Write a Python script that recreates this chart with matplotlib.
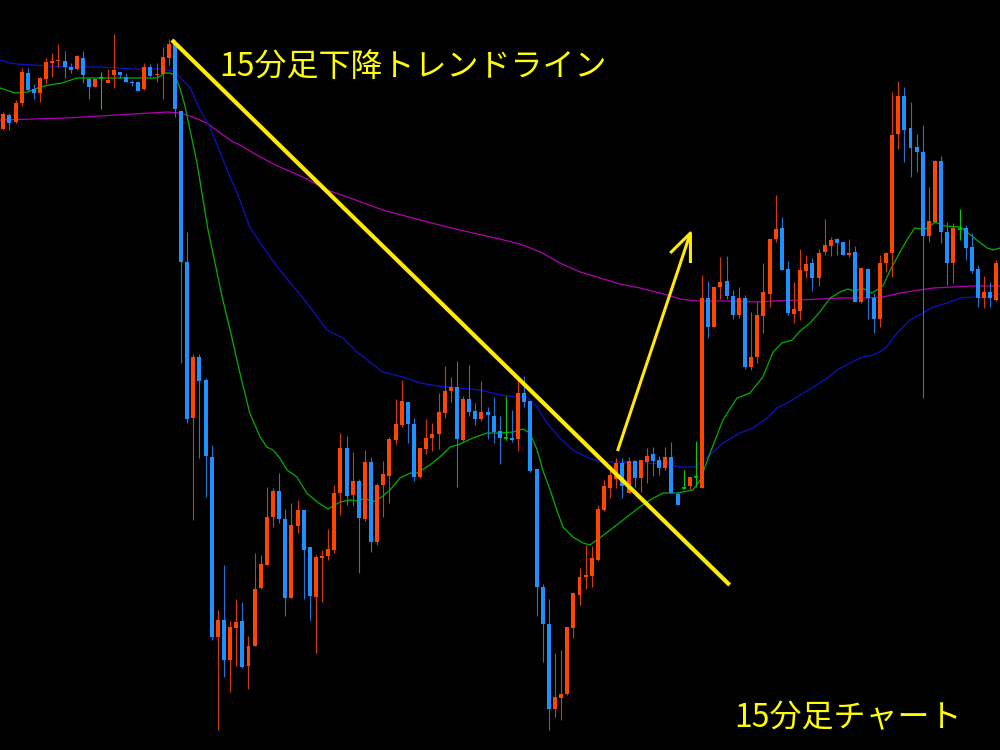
import matplotlib
matplotlib.use('Agg')
import matplotlib.pyplot as plt
import numpy as np

# 15-minute candles, price levels (arbitrary units)
opens = [621, 635, 628, 647, 677, 661, 657, 671, 687, 689,
         689, 683, 681, 692, 671, 663, 672, 667, 675, 678,
         673, 668, 668, 661, 683, 675, 676, 692, 708, 639,
         488, 332, 393, 370, 293, 113, 130, 90, 122, 129,
         84, 104, 162, 185, 233, 259, 231, 152, 224, 240,
         203, 153, 192, 194, 200, 257, 302, 255, 269, 231,
         288, 208, 265, 274, 310, 325, 348, 326, 273, 301,
         312, 316, 337, 359, 363, 310, 351, 339, 331, 338,
         334, 319, 312, 312, 311, 357, 349, 281, 163, 126,
         41, 52, 56, 122, 155, 173, 174, 190, 240, 262,
         271, 287, 257, 289, 272, 288, 296, 290, 282, 293,
         256, 262, 264, 273, 262, 452, 423, 463, 469, 454,
         435, 452, 383, 393, 434, 456, 511, 522, 481, 436,
         439, 479, 487, 472, 498, 504, 511, 508, 495, 498,
         448, 481, 452, 431, 487, 497, 616, 654, 622, 603,
         598, 514, 528, 589, 518, 487, 521, 522, 503, 481,
         452, 458, 450, 487]
highs = [638, 637, 650, 682, 682, 666, 673, 692, 697, 706,
         699, 687, 695, 699, 673, 671, 678, 681, 716, 678,
         677, 670, 669, 687, 686, 687, 703, 711, 710, 639,
         518, 396, 396, 372, 305, 140, 185, 129, 151, 148,
         114, 197, 195, 263, 262, 277, 241, 247, 250, 240,
         203, 195, 200, 221, 265, 317, 314, 298, 271, 300,
         293, 267, 289, 313, 351, 370, 348, 332, 302, 331,
         327, 357, 384, 373, 389, 354, 385, 347, 369, 343,
         353, 334, 354, 340, 371, 374, 349, 281, 166, 151,
         97, 100, 123, 158, 182, 205, 204, 245, 270, 281,
         292, 292, 293, 290, 290, 302, 303, 294, 303, 308,
         258, 280, 273, 309, 475, 469, 463, 493, 494, 460,
         463, 455, 438, 448, 487, 511, 555, 533, 489, 468,
         501, 495, 492, 501, 531, 513, 512, 508, 511, 504,
         482, 482, 457, 495, 498, 658, 669, 663, 648, 616,
         625, 563, 590, 594, 528, 527, 541, 525, 517, 485,
         474, 468, 490, 532]
lows = [620, 620, 627, 644, 659, 651, 648, 666, 673, 683,
        672, 677, 680, 667, 651, 663, 641, 667, 662, 672,
        668, 664, 659, 660, 673, 668, 651, 685, 633, 387,
        327, 230, 292, 253, 110, 20, 73, 58, 84, 82,
        61, 104, 161, 185, 223, 227, 134, 152, 217, 151,
        130, 97, 148, 190, 197, 235, 245, 244, 177, 229,
        198, 205, 233, 247, 306, 323, 307, 269, 272, 296,
        299, 301, 332, 348, 263, 309, 334, 325, 329, 311,
        307, 286, 310, 308, 299, 343, 278, 134, 88, 20,
        33, 30, 55, 112, 145, 161, 163, 189, 239, 252,
        262, 252, 257, 263, 258, 267, 274, 275, 280, 257,
        245, 261, 261, 263, 262, 412, 423, 451, 451, 431,
        432, 381, 380, 387, 417, 443, 508, 480, 435, 427,
        430, 472, 459, 464, 495, 494, 495, 495, 493, 448,
        447, 431, 417, 423, 478, 473, 601, 588, 573, 578,
        352, 508, 528, 507, 465, 467, 510, 490, 477, 443,
        442, 443, 449, 486]
closes = [636, 627, 647, 678, 660, 657, 672, 688, 689, 690,
          683, 680, 694, 675, 663, 671, 672, 670, 680, 675,
          668, 667, 659, 683, 674, 676, 693, 706, 641, 488,
          331, 393, 369, 294, 113, 130, 90, 123, 128, 83,
          104, 161, 186, 233, 259, 231, 152, 225, 240, 200,
          154, 193, 194, 201, 257, 302, 254, 269, 232, 288,
          208, 265, 276, 311, 326, 349, 326, 273, 302, 312,
          316, 338, 359, 363, 311, 351, 338, 331, 338, 335,
          318, 312, 312, 310, 357, 348, 279, 163, 126, 41,
          53, 56, 123, 157, 173, 175, 192, 241, 264, 275,
          287, 264, 289, 272, 290, 294, 289, 282, 293, 257,
          245, 262, 273, 273, 452, 423, 463, 468, 454, 435,
          452, 383, 393, 435, 458, 511, 521, 480, 437, 441,
          480, 486, 472, 497, 505, 510, 507, 495, 497, 448,
          482, 452, 431, 487, 497, 615, 654, 620, 602, 598,
          514, 529, 589, 518, 487, 522, 521, 502, 479, 452,
          458, 452, 487, 528]

# moving averages, sampled along the drawn lines (x = candle index)
fast_x = [-0.5, 1.9, 4.0, 6.0, 7.6, 9.6, 12.0, 17.4, 25.1, 26.4, 27.2, 28.0, 28.8, 29.6, 31.6, 33.4,
          35.7, 37.0, 38.6, 40.2, 41.9, 43.0, 44.0, 45.1, 46.3, 47.9, 49.5, 51.2, 53.0, 54.9, 56.6,
          57.9, 59.0, 60.2, 61.5, 63.1, 64.7, 66.4, 67.5, 69.6, 71.2, 72.9, 74.5, 76.6, 78.9, 81.0,
          83.2, 84.8, 85.9, 87.1, 88.0, 89.2, 90.3, 91.3, 92.9, 94.6, 95.7, 97.3, 99.0, 103.4, 105.5,
          107.6, 109.9, 112.5, 113.7, 115.3, 117.4, 119.7, 121.8, 123.9, 125.6, 127.0, 128.7, 130.0,
          131.6, 133.2, 134.9, 136.5, 137.8, 138.9, 140.1, 141.7, 143.5, 144.7, 146.3, 147.4, 148.7,
          149.9, 150.9, 152.0, 153.6, 156.1, 157.2, 158.8, 160.5, 161.5, 162.6]
fast_y = [662, 657, 658, 663, 665, 667, 672, 672, 672, 677, 677, 675, 662, 645, 587, 520,
          453, 420, 377, 337, 313, 303, 300, 292, 280, 273, 257, 248, 241, 248, 250,
          249, 252, 248, 252, 260, 272, 277, 277, 285, 293, 303, 306, 312, 317, 317,
          318, 321, 317, 300, 280, 260, 240, 223, 213, 207, 205, 212, 220, 241, 250,
          257, 257, 260, 270, 297, 330, 352, 357, 373, 398, 407, 410, 419,
          427, 438, 452, 458, 461, 459, 462, 457, 464, 480, 498, 510, 522,
          521, 522, 528, 524, 523, 518, 510, 502, 500, 502]
mid_x = [-0.5, 1.1, 2.2, 4.9, 7.6, 10.4, 15.8, 21.2, 25.6, 27.7, 28.8, 30.5, 32.1, 33.7, 35.4,
         37.0, 38.6, 40.2, 41.9, 45.1, 48.9, 52.8, 55.4, 57.7, 59.8, 61.9, 65.2, 68.0, 70.8, 74.5,
         77.8, 81.0, 83.8, 85.4, 87.1, 88.7, 90.8, 92.9, 95.2, 97.3, 100.6, 103.9, 108.3, 110.4,
         112.8, 115.3, 117.4, 120.2, 122.3, 124.6, 126.2, 127.9, 130.0, 132.1, 134.4, 136.0, 138.1,
         140.2, 141.9, 143.8, 145.8, 147.9, 150.0, 151.7, 154.0, 156.1, 158.2, 160.5, 162.6]
mid_y = [690, 687, 686, 685, 684, 683, 683, 681, 681, 679, 673, 662, 640, 623, 597,
         573, 550, 523, 507, 480, 452, 420, 412, 398, 388, 378, 373, 367, 364, 362,
         360, 355, 353, 353, 343, 327, 312, 300, 293, 288, 288, 287, 286, 283,
         283, 295, 307, 317, 322, 332, 342, 347, 355, 363, 372, 380, 387,
         393, 395, 401, 417, 430, 437, 443, 447, 452, 453, 453, 456]
slow_x = [-0.5, 4.8, 10.4, 15.8, 21.2, 26.7, 28.8, 30.9, 33.2, 35.4, 37.5, 38.6, 41.9, 45.1, 48.9,
          52.8, 56.6, 61.9, 66.8, 72.4, 76.6, 81.0, 84.8, 87.6, 90.8, 94.1, 99.0, 100.6, 103.9, 108.3,
          110.4, 113.2, 119.0, 122.9, 125.6, 130.0, 133.2, 136.5, 140.9, 143.5, 146.3, 149.5, 151.7,
          154.9, 158.2, 162.6]
slow_y = [630, 631, 632, 634, 636, 638, 637, 633, 627, 617, 608, 605, 593, 583, 573,
          560, 552, 540, 532, 523, 517, 511, 505, 498, 487, 478, 469, 466, 462, 455,
          451, 449, 449, 448, 449, 450, 451, 452, 452, 453, 457, 460, 462,
          463, 464, 464]

# hand-drawn annotations (candle index, price)
trend_x = [27.5, 118.5]
trend_y = [710, 165]
arrow_x = [100.2, 112.1]
arrow_y = [299, 517]
head_x = [108.8, 112.1, 112.1]
head_y = [497, 517, 487]

title_text = '15分足下降トレンドライン'
corner_text = '15分足チャート'

UP_COL = '#ff4500'
DOWN_COL = '#1e90ff'
DOJI_COL = '#00d000'

plt.rcParams['font.family'] = ['Noto Sans CJK JP', 'DejaVu Sans']

o = np.array(opens, dtype=float)
h = np.array(highs, dtype=float)
l = np.array(lows, dtype=float)
c = np.array(closes, dtype=float)
x = np.arange(len(o))
up = c > o
down = c < o
doji = c == o

fig = plt.figure(figsize=(10, 7.5), dpi=100, facecolor='black')
ax = fig.add_axes([0, 0, 1, 1])
ax.set_facecolor('black')

# MAs
ax.plot(slow_x, slow_y, color='#b400b4', lw=0.9, zorder=2)
ax.plot(mid_x, mid_y, color='#1010c8', lw=0.9, zorder=2)
ax.plot(fast_x, fast_y, color='#00b000', lw=0.9, zorder=2)

# candles
wick_cols = np.where(up, '#d83a00', np.where(down, '#1a78d8', DOJI_COL))
ax.vlines(x, l, h, colors=wick_cols, lw=0.8, zorder=3)
bw = 0.65
ax.bar(x[up], np.maximum(c[up] - o[up], 1.5), bottom=o[up], width=bw, color=UP_COL, lw=0, zorder=4)
ax.bar(x[down], np.maximum(o[down] - c[down], 1.5), bottom=c[down], width=bw, color=DOWN_COL, lw=0, zorder=4)
ax.hlines(c[doji], x[doji] - bw / 2, x[doji] + bw / 2, colors=DOJI_COL, lw=1.2, zorder=4)

# trend line and arrow
ax.plot(trend_x, trend_y, color='#ffea00', lw=3.0, solid_capstyle='butt', zorder=5)
ax.plot(arrow_x, arrow_y, color='#ffea00', lw=2.2, solid_capstyle='butt', zorder=5)
ax.plot(head_x, head_y, color='#ffea00', lw=2.2, solid_capstyle='butt', zorder=5)

ax.text(0.219, 0.911, title_text, transform=ax.transAxes, color='#ffff00',
        fontsize=23, ha='left', va='center', zorder=6)
ax.text(0.734, 0.042, corner_text, transform=ax.transAxes, color='#ffff00',
        fontsize=23, ha='left', va='center', zorder=6)

ax.set_xlim(-0.54, 162.6)
ax.set_ylim(0, 750)
ax.axis('off')

fig.savefig('out.png', dpi=100, facecolor='black')
